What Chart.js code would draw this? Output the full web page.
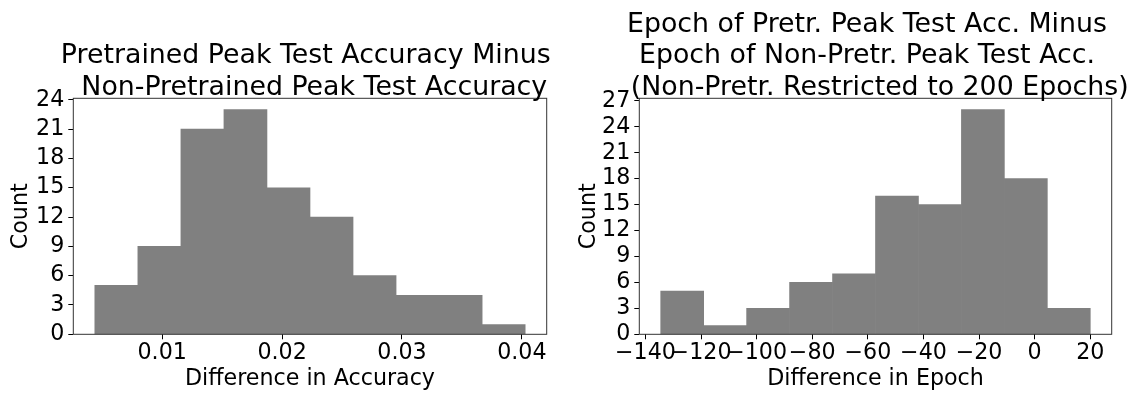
<!DOCTYPE html>
<html>
<head>
<meta charset="utf-8">
<script src="https://cdn.jsdelivr.net/npm/chart.js@4.4.0/dist/chart.umd.min.js"></script>
<style>
  html, body { margin: 0; padding: 0; background: #fff; overflow: hidden; }
  #wrap { position: relative; width: 1137px; height: 394px; }
  canvas { position: absolute; top: 0; }
  #accChart { left: 0; }
  #epochChart { left: 568px; }
</style>
</head>
<body>
<div id="wrap">
  <canvas id="accChart" width="568" height="394"></canvas>
  <canvas id="epochChart" width="569" height="394"></canvas>
</div>
<script>
// Histogram of peak test accuracy differences (10 bins)
const accBinEdges = [0.004382, 0.007971, 0.011561, 0.015150, 0.018739, 0.022329,
                     0.025918, 0.029507, 0.033096, 0.036686, 0.040275];
const accCounts = [5, 9, 21, 23, 15, 12, 6, 4, 4, 1];
const accTicksX = [0.01, 0.02, 0.03, 0.04];
const accTicksY = [0, 3, 6, 9, 12, 15, 18, 21, 24];

// Histogram of epoch differences (10 bins)
const epochBinEdges = [-134.5, -119.05, -103.6, -88.15, -72.7, -57.25,
                       -41.8, -26.35, -10.9, 4.55, 20.0];
const epochCounts = [5, 1, 3, 6, 7, 16, 15, 26, 18, 3];
const epochTicksX = [-140, -120, -100, -80, -60, -40, -20, 0, 20];
const epochTicksY = [0, 3, 6, 9, 12, 15, 18, 21, 24, 27];

const FONT = 'DejaVu Sans';
const TICK_SIZE = 22.2;
const TITLE_SIZE = 26.8;
const TITLE_LINE = 31.7;
const BAR_COLOR = '#808080';
const SPINE_COLOR = '#333333';

function getCanvasContext(id) {
    const element = document.getElementById(id);
    if (!element) {
        console.warn(`Canvas element with id '${id}' not found`);
        return null;
    }
    return element.getContext('2d');
}

// one point per bin, placed at the bin centre
function binPoints(edges, counts) {
    return counts.map((c, i) => ({ x: (edges[i] + edges[i + 1]) / 2, y: c }));
}

// draws the full box around the plot area (top and right spines too)
const framePlugin = {
    id: 'frame',
    afterDraw(chart) {
        const a = chart.chartArea;
        const ctx = chart.ctx;
        ctx.save();
        ctx.strokeStyle = SPINE_COLOR;
        ctx.lineWidth = 1;
        ctx.strokeRect(a.left, a.top, a.right - a.left, a.bottom - a.top);
        ctx.restore();
    }
};

// multi-line heading centred over the plot area; lines may be wider than the axes
const headingPlugin = {
    id: 'heading',
    afterDraw(chart, args, opts) {
        const lines = opts.lines || [];
        const a = chart.chartArea;
        const ctx = chart.ctx;
        const cx = (a.left + a.right) / 2;
        ctx.save();
        ctx.fillStyle = '#000';
        ctx.font = `${TITLE_SIZE}px "${FONT}"`;
        ctx.textAlign = 'center';
        ctx.textBaseline = 'alphabetic';
        lines.forEach((line, i) => {
            const y = a.top - 3.3 - (lines.length - 1 - i) * TITLE_LINE;
            ctx.fillText(line, cx, y);
        });
        ctx.restore();
    }
};

function makeHistogram(id, cfg) {
    const ctx = getCanvasContext(id);
    if (!ctx) return null;

    return new Chart(ctx, {
        type: 'bar',
        data: {
            datasets: [{
                data: binPoints(cfg.edges, cfg.counts),
                backgroundColor: BAR_COLOR,
                borderWidth: 0,
                barPercentage: 1,
                categoryPercentage: 1
            }]
        },
        options: {
            responsive: false,
            animation: false,
            devicePixelRatio: 1,
            layout: { padding: { left: 0, right: cfg.paddingRight, top: 98.3, bottom: 0 } },
            plugins: {
                legend: { display: false },
                tooltip: { enabled: false },
                title: { display: false },
                heading: { lines: cfg.title }
            },
            scales: {
                x: {
                    type: 'linear',
                    offset: false,
                    min: cfg.xMin,
                    max: cfg.xMax,
                    afterBuildTicks: (scale) => { scale.ticks = cfg.xTicks.map(v => ({ value: v })); },
                    afterFit: (scale) => { scale.height = 59.7; },
                    border: { display: false },
                    grid: {
                        offset: false,
                        drawOnChartArea: false,
                        drawTicks: true,
                        tickLength: 5,
                        tickColor: '#000',
                        lineWidth: 1
                    },
                    ticks: {
                        autoSkip: false,
                        maxRotation: 0,
                        minRotation: 0,
                        padding: 0.5,
                        color: '#000',
                        font: { family: FONT, size: TICK_SIZE },
                        callback: cfg.xFormat
                    },
                    title: {
                        display: true,
                        text: cfg.xLabel,
                        color: '#000',
                        font: { family: FONT, size: TICK_SIZE },
                        padding: { top: 0, bottom: 1.2 }
                    }
                },
                y: {
                    min: 0,
                    max: cfg.yMax,
                    afterBuildTicks: (scale) => { scale.ticks = cfg.yTicks.map(v => ({ value: v })); },
                    afterFit: (scale) => { scale.width = cfg.yAxisWidth; },
                    border: { display: false },
                    grid: {
                        drawOnChartArea: false,
                        drawTicks: true,
                        tickLength: 5,
                        tickColor: '#000',
                        lineWidth: 1
                    },
                    ticks: {
                        autoSkip: false,
                        padding: 4,
                        color: '#000',
                        font: { family: FONT, size: TICK_SIZE },
                        callback: (v) => String(v)
                    },
                    title: {
                        display: true,
                        text: 'Count',
                        color: '#000',
                        font: { family: FONT, size: TICK_SIZE },
                        padding: { top: 7.5, bottom: 0 }
                    }
                }
            }
        },
        plugins: [framePlugin, headingPlugin]
    });
}

const accChart = makeHistogram('accChart', {
    edges: accBinEdges,
    counts: accCounts,
    xMin: 0.002587,
    xMax: 0.04207,
    yMax: 24.15,
    xTicks: accTicksX,
    yTicks: accTicksY,
    xFormat: (v) => v.toFixed(2),
    xLabel: 'Difference in Accuracy',
    title: ['Pretrained Peak Test Accuracy Minus ', ' Non-Pretrained Peak Test Accuracy'],
    yAxisWidth: 73.3,
    paddingRight: 21.3
});

const epochChart = makeHistogram('epochChart', {
    edges: epochBinEdges,
    counts: epochCounts,
    xMin: -142.2,
    xMax: 27.7,
    yMax: 27.3,
    xTicks: epochTicksX,
    yTicks: epochTicksY,
    xFormat: (v) => (v < 0 ? '\u2212' + Math.abs(v) : String(v)),
    xLabel: 'Difference in Epoch',
    title: ['Epoch of Pretr. Peak Test Acc. Minus  ', 'Epoch of Non-Pretr. Peak Test Acc.  ',
            ' (Non-Pretr. Restricted to 200 Epochs)'],
    yAxisWidth: 71.3,
    paddingRight: 25.3
});
</script>
</body>
</html>
